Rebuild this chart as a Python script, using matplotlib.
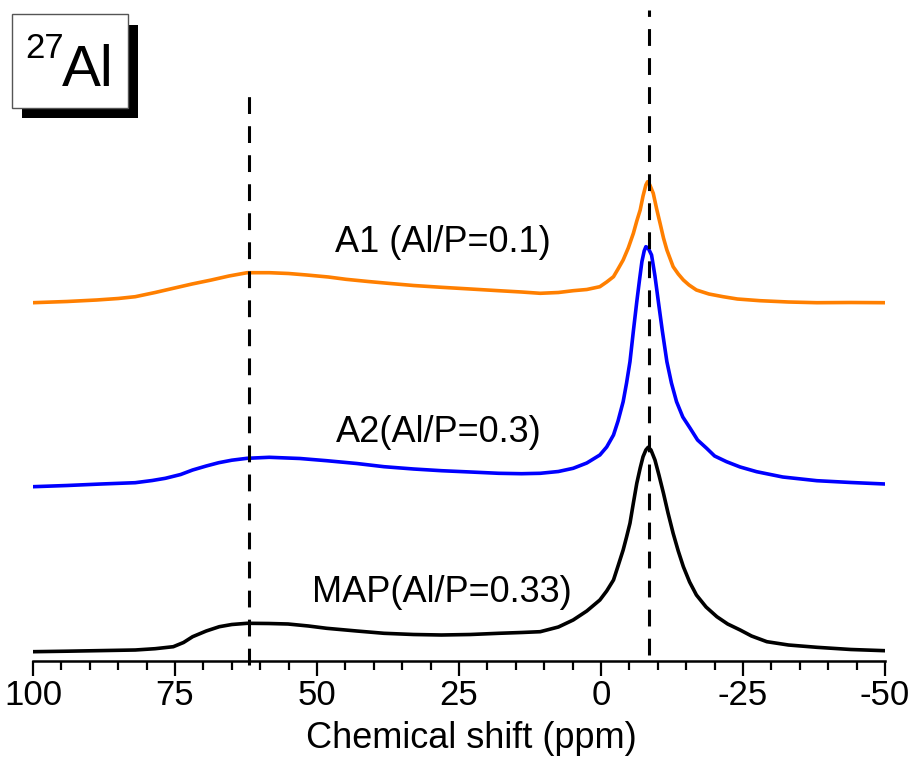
import matplotlib
matplotlib.use("Agg")
import matplotlib.pyplot as plt
from matplotlib.patches import Rectangle

plt.rcParams['font.family'] = ['Liberation Sans', 'DejaVu Sans']

# Chemical shift (ppm) and intensity (arbitrary units, stacked with offsets)
shift_a1 = [100, 94, 88.8, 85, 82.0, 78.5, 75.3, 72, 68.6, 65.5, 62.3, 58.4, 55, 51.8, 48,
            44.9, 41, 37.5, 33, 28.1, 23, 18.0, 14, 10.7, 7.5, 4.9, 2.5, 0.2, -1.0, -2.2,
            -3.0, -3.9, -4.8, -5.7, -6.3, -6.9, -7.4, -7.9, -8.2, -8.6, -9.2, -9.8, -10.4,
            -11.0, -11.6, -12.7, -13.6, -14.5, -15.5, -16.8, -19.0, -21.5, -24.0, -28.0,
            -33.0, -38.0, -44.0, -50.0]
int_a1 = [358.3, 359.5, 361.0, 362.5, 364.3, 368.5, 372.7, 377.0, 381.0, 385.0, 388.3,
          388.3, 387.5, 386.0, 384.0, 381.7, 379.5, 377.7, 375.5, 373.7, 372.0, 370.3,
          369.0, 367.7, 368.5, 370.3, 371.5, 374.3, 379.0, 384.3, 392.0, 401.0, 413.0,
          427.7, 440.0, 451.0, 465.0, 476.0, 479.3, 476.0, 467.7, 452.0, 437.7, 423.0,
          411.0, 394.3, 387.0, 381.0, 376.0, 371.0, 367.0, 364.3, 362.0, 360.3, 359.0,
          358.3, 358.5, 358.3]

shift_a2 = [100, 94, 88, 82.0, 79, 76.7, 74, 71.9, 69.5, 67.3, 65, 62.3, 58.4, 53, 48.3,
            43, 38.2, 33, 28.1, 23, 18.0, 14, 10.7, 7.5, 4.9, 2.5, 0.2, -1.0, -2.2, -3.0,
            -3.9, -4.5, -5.1, -5.7, -6.3, -6.8, -7.2, -7.6, -7.9, -8.3, -8.9, -9.5, -10.1,
            -10.8, -11.6, -12.4, -13.3, -14.4, -15.7, -17.0, -18.6, -20.0, -22.1, -24.5,
            -27.4, -32.0, -38.0, -44.0, -50.0]
int_a2 = [174.3, 175.5, 177.0, 178.3, 180.5, 182.7, 186.5, 191.0, 195.0, 198.3, 200.8,
          202.7, 203.7, 202.5, 200.3, 197.5, 194.3, 192.0, 190.3, 189.0, 187.7, 187.3,
          187.7, 189.5, 192.7, 198.0, 206.0, 214.0, 226.0, 240.0, 259.3, 278.0, 299.3,
          330.0, 359.3, 382.0, 399.3, 410.0, 414.3, 413.0, 406.0, 385.0, 359.3, 330.0,
          299.3, 278.0, 259.3, 244.0, 232.7, 221.0, 212.7, 205.0, 199.3, 194.0, 189.3,
          184.0, 180.3, 178.5, 177.0]

shift_map = [100, 94, 88, 82.0, 78.5, 75.3, 73.5, 71.9, 69.5, 67.2, 65, 62.3, 58.5, 55.1,
             51.5, 48.3, 43, 38.2, 33, 28.1, 23, 18.0, 14, 10.7, 7.5, 4.9, 2.5, 0.2, -1.0,
             -2.2, -3.0, -3.9, -4.5, -5.1, -5.7, -6.3, -6.9, -7.4, -7.9, -8.3, -8.8, -9.5,
             -10.2, -11.0, -11.8, -12.7, -13.6, -14.5, -15.6, -16.8, -18.5, -20.4, -22.3,
             -24.5, -26.5, -29.2, -33.0, -38.0, -44.0, -50.0]
int_map = [9.3, 9.8, 10.4, 11.0, 12.3, 14.3, 18.5, 24.3, 30.0, 34.3, 36.5, 37.7, 37.5,
           37.0, 35.0, 32.7, 30.0, 27.7, 26.5, 26.0, 26.5, 27.7, 28.5, 29.3, 34.0, 41.0,
           50.0, 61.0, 70.0, 81.0, 95.0, 111.0, 124.0, 137.7, 158.0, 177.7, 193.0, 204.3,
           211.0, 213.7, 211.0, 201.0, 186.0, 167.7, 148.0, 127.7, 110.0, 94.3, 79.0,
           66.0, 54.0, 44.3, 37.0, 31.0, 25.0, 19.3, 16.0, 13.7, 11.5, 10.3]

series_labels = ["A1 (Al/P=0.1)", "A2(Al/P=0.3)", "MAP(Al/P=0.33)"]
series_colors = ["#FF7F00", "#0000FF", "#000000"]
label_pos = [(27.8, 419.0), (28.5, 229.0), (28.0, 69.0)]  # (ppm, intensity)
ref_shifts = [62.0, -8.5]
ref_spans = [(-4.0, 566.0), (6.0, 651.0)]
x_ticks = [100, 75, 50, 25, 0, -25, -50]
x_label = "Chemical shift (ppm)"
nucleus_mass = "27"
nucleus_symbol = "Al"

W, H = 909, 760
fig = plt.figure(figsize=(W / 100, H / 100), dpi=100)
ax_left, ax_right, ax_y = 33, 885, 661
ax = fig.add_axes([ax_left / W, (H - ax_y) / H, (ax_right - ax_left) / W, ax_y / H])

for xs, ys, c in zip([shift_a1, shift_a2, shift_map], [int_a1, int_a2, int_map], series_colors):
    ax.plot(xs, ys, color=c, lw=2.6, solid_joinstyle='round', zorder=3)

for (lx, ly), t in zip(label_pos, series_labels):
    ax.text(lx, ly, t, fontsize=26, ha='center', va='center', zorder=4)

for xr, (y0, y1) in zip(ref_shifts, ref_spans):
    ax.plot([xr, xr], [y0, y1], color='black', lw=2.2, ls=(0, (5.5, 4.0)),
            clip_on=False, zorder=5)

ax.set_xlim(100, -50)
ax.set_ylim(0, ax_y)
ax.set_xticks(x_ticks)
ax.set_xticklabels([str(t) for t in x_ticks])
ax.set_xticks(list(range(100, -51, -5)), minor=True)
ax.tick_params(axis='x', which='major', direction='out', length=11, width=1.6,
               labelsize=25, pad=2)
ax.tick_params(axis='x', which='minor', direction='out', length=6.5, width=1.6)
ax.set_yticks([])
for s in ['top', 'right', 'left']:
    ax.spines[s].set_visible(False)
ax.spines['bottom'].set_linewidth(1.8)
ax.set_xlabel(x_label, fontsize=26)
ax.xaxis.set_label_coords(0.515, -60 / ax_y)
ax.patch.set_alpha(0)

# nucleus box with shadow (pixel coords from top-left)
def px_rect(x0, y0, x1, y1, **kw):
    return Rectangle((x0 / W, 1 - y1 / H), (x1 - x0) / W, (y1 - y0) / H,
                     transform=fig.transFigure, **kw)

fig.add_artist(px_rect(22, 25, 138, 118, facecolor='black', edgecolor='none', zorder=6))
fig.add_artist(px_rect(12, 14, 128, 108, facecolor='white', edgecolor='#555555',
                       lw=1.0, zorder=7))
fig.text(25 / W, 1 - 58 / H, nucleus_mass, fontsize=25, ha='left', va='baseline', zorder=8)
fig.text(62 / W, 1 - 86 / H, nucleus_symbol, fontsize=42, ha='left', va='baseline', zorder=8)

fig.savefig("out.png", dpi=100)
